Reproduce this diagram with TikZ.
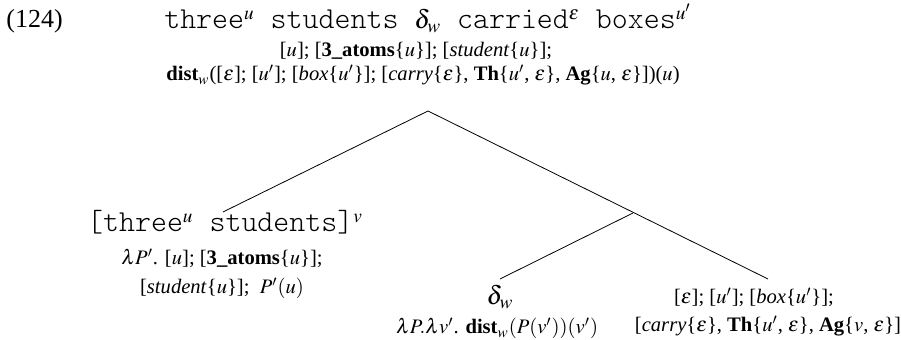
\documentclass[tikz,border=0pt]{standalone}
\usepackage{mathptmx}
\usepackage{fontspec}
\setmainfont{Liberation Serif}
\setmonofont[Scale=1.17]{Latin Modern Mono Light}

\tikzset{
  lbl/.style={font=\fontsize{10.3}{12}\selectfont, inner sep=0pt, anchor=base},
  ttl/.style={font=\fontsize{13}{15}\selectfont\ttfamily, inner sep=0pt, anchor=base},
  big/.style={font=\fontsize{13}{15}\selectfont, inner sep=0pt, anchor=base}
}

\begin{document}
\begin{tikzpicture}[x=0.5pt, y=-0.5pt]
        \useasboundingbox (0,0) rectangle (901,340);
        % Numero
        \node[big, anchor=base west] (num) at (6,28) {(124)};

        % Raiz
        \node[ttl] (rootA) at (428,29) {three$^u$ students $\delta_w$ carried$^\varepsilon$ boxes$^{u'}$};
        \node[lbl] (rootB) at (416,57) {[$u$]; [\textbf{3\_atoms}\{$u$\}]; [\textit{student}\{$u$\}];};
        \node[lbl] (rootC) at (423,81) {\textbf{dist}$_w$([$\varepsilon$]; [$u'$]; [\textit{box}\{$u'$\}]; [\textit{carry}\{$\varepsilon$\}, \textbf{Th}\{$u'$, $\varepsilon$\}, \textbf{Ag}\{$u$, $\varepsilon$\}])($u$)};

        % Hijo izquierdo
        \node[ttl] (leftA) at (225,232) {[three$^u$ students]$^v$};
        \node[lbl] (leftB) at (222,265) {$\lambda P'$. [$u$]; [\textbf{3\_atoms}\{$u$\}];};
        \node[lbl] (leftC) at (222,294) {[\textit{student}\{$u$\}]; \ $P'(u)$};

        % Delta
        \node[big] (delta) at (500,305) {$\delta_w$};
        \node[lbl] (deltaB) at (497,334) {$\lambda P.\lambda v'$. \textbf{dist}$_w(P(v'))(v')$};

        % Hijo derecho
        \node[lbl] (rightA) at (754,304) {[$\varepsilon$]; [$u'$]; [\textit{box}\{$u'$\}];};
        \node[lbl] (rightB) at (768,332) {[\textit{carry}\{$\varepsilon$\}, \textbf{Th}\{$u'$, $\varepsilon$\}, \textbf{Ag}\{$v$, $\varepsilon$\}]};

        % Ramas
        \coordinate (top) at (428,111);
        \coordinate (leftEnd) at (223,212);
        \coordinate (mid) at (633,213);
        \coordinate (deltaEnd) at (500,279);
        \coordinate (rightEnd) at (768,279);
        \draw (leftEnd) -- (top) -- (rightEnd);
        \draw (mid) -- (deltaEnd);
\end{tikzpicture}
\end{document}
